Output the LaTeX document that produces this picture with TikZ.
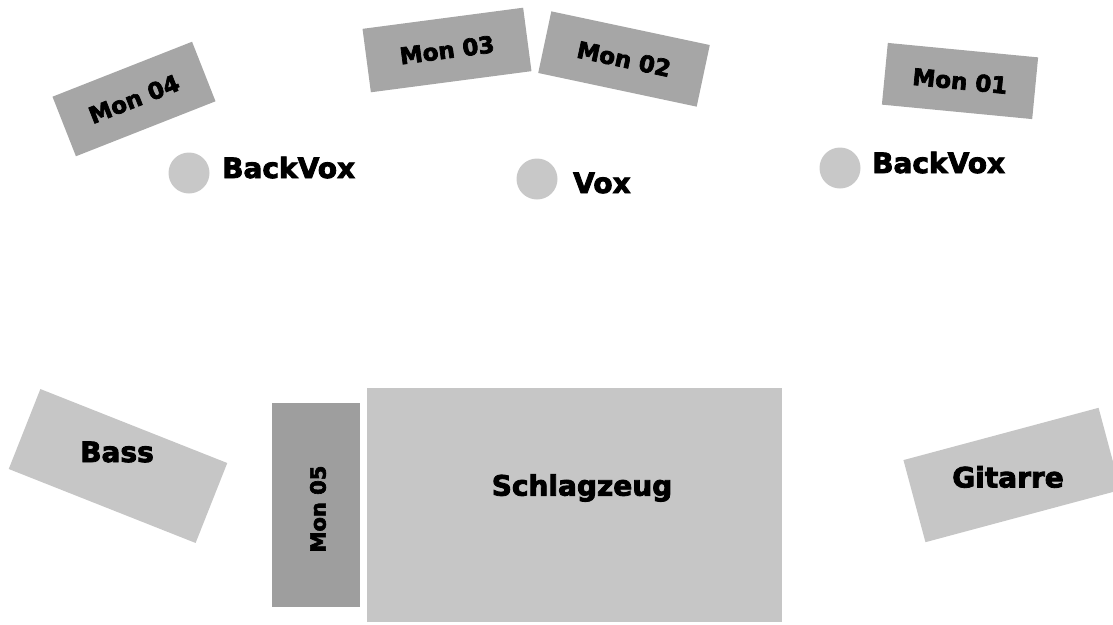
\documentclass[tikz,border=0pt]{standalone}
\usepackage{fontspec}
\setmainfont{DejaVu Sans}
\newfontfamily\heavyfont{DejaVu Sans}[FakeBold=3]
\usepackage{xcolor}
\usetikzlibrary{positioning}
\definecolor{mongrey}{RGB}{166,166,166}
\definecolor{monfive}{RGB}{158,158,158}
\definecolor{boxgrey}{RGB}{198,198,198}
\definecolor{micgrey}{RGB}{200,200,200}
\newcommand{\monnode}[4]{\node [mon, #3] (#1) at (#2) {#4}}
\newcommand{\micnode}[2]{\node [mic] (#1) at (#2) {}}

\tikzset{
  mon/.style={fill=mongrey, minimum width=160pt, minimum height=64pt, inner sep=0pt,
    font=\heavyfont\bfseries\fontsize{23}{25}\selectfont},
  stagebox/.style={fill=boxgrey, inner sep=0pt},
  mic/.style={circle, fill=micgrey, minimum size=41pt, inner sep=0pt},
  lbl/.style={inner sep=0pt, font=\heavyfont\bfseries\fontsize{28}{30}\selectfont}
}

\begin{document}
\begin{tikzpicture}[x=1pt, y=-1pt]

\useasboundingbox (0,0) rectangle (1113,624);

\monnode{MON4}{134,99}{rotate=21.5, minimum width=150pt}{Mon 04};
\monnode{MON3}{447,50}{rotate=7.5, minimum width=162pt}{Mon 03};
\monnode{MON2}{624,59}{rotate=-12, minimum width=162pt, minimum height=63pt}{Mon 02};
\monnode{MON1}{960,81}{rotate=-5.5, minimum width=151pt, minimum height=62pt}{Mon 01};

\micnode{BVL}{189,173};
\micnode{VOX}{537,179};
\micnode{BVR}{840,168};
\node [lbl, anchor=base west] (BVLT) at (222,178) {BackVox};
\node [lbl, anchor=base west] (VOXT) at (573,193) {Vox};
\node [lbl, anchor=base west] (BVRT) at (872,173) {BackVox};

\node [stagebox, rotate=-21.6, minimum width=201pt, minimum height=86pt] (BASS) at (118,466) {};
\node [lbl] (BASST) at (117,452) {Bass};

\node [fill=monfive, minimum width=88pt, minimum height=204pt, inner sep=0pt] (MON5) at (316,505) {};
\node [lbl, rotate=90, font=\heavyfont\bfseries\fontsize{21}{23}\selectfont] (MON5T) at (318,509) {Mon 05};

\node [stagebox, minimum width=415pt, minimum height=234pt] (DRUM) at (574.5,505) {};
\node [lbl] (DRUMT) at (582,488) {Schlagzeug};

\node [stagebox, rotate=15, minimum width=202pt, minimum height=85pt] (GIT) at (1012,475) {};
\node [lbl] (GITT) at (1008,477) {Gitarre};

\end{tikzpicture}
\end{document}
